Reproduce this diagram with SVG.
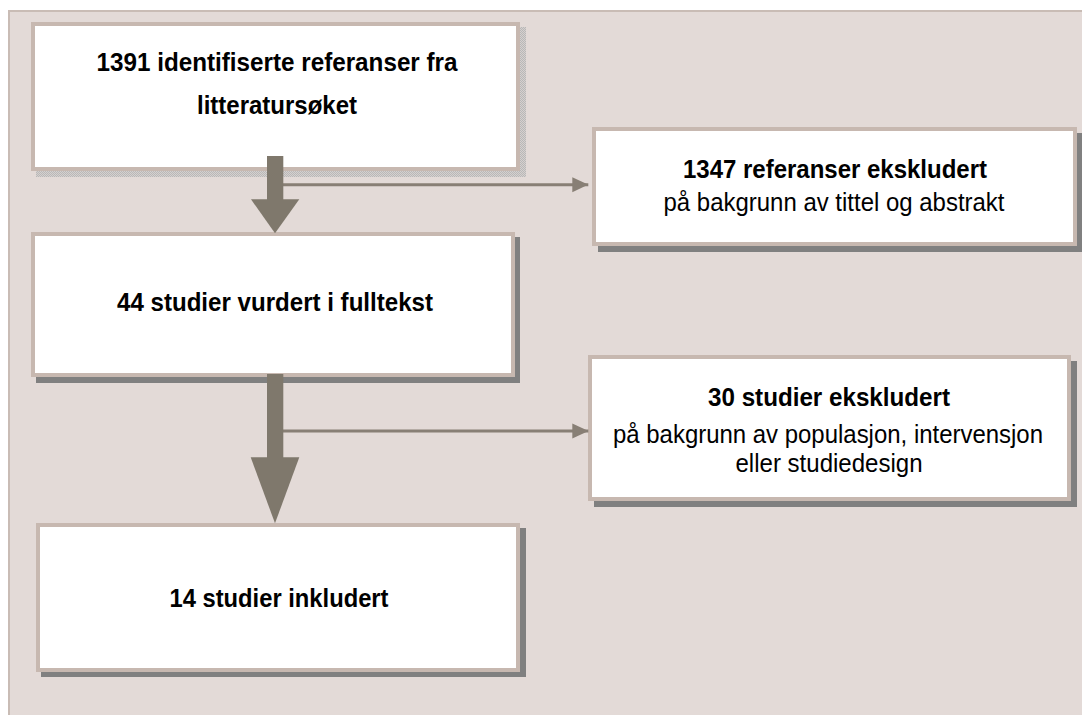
<svg xmlns="http://www.w3.org/2000/svg" width="1082" height="715" viewBox="0 0 1082 715">
  <defs>
    <pattern id="dots" width="2" height="2" patternUnits="userSpaceOnUse">
      <rect width="2" height="2" fill="#D6D0CE"/>
      <rect width="1" height="1" fill="#B8B8B8"/>
      <rect x="1" y="1" width="1" height="1" fill="#B8B8B8"/>
    </pattern>
    <marker id="ah" markerWidth="16" markerHeight="16" viewBox="0 0 16 16" refX="16" refY="8" orient="auto" markerUnits="userSpaceOnUse">
      <path d="M0,0.5 L16,8 L0,15.5 Z" fill="#887F75"/>
    </marker>
  </defs>
  <style>
    .panel { fill: #E3DAD7; stroke: #C9BCB5; stroke-width: 2; }
    .box { fill: #FFFFFF; stroke: #C7B8B0; stroke-width: 4; }
    .shadow { fill: #808080; }
    .dotshadow { fill: url(#dots); }
    .b { font-family: "Liberation Sans", Arial, sans-serif; font-size: 26px; font-weight: bold; fill: #000; text-anchor: middle; }
    .r { font-family: "Liberation Sans", Arial, sans-serif; font-size: 25.5px; font-weight: normal; fill: #000; text-anchor: middle; }
    .shaft { fill: #7F786C; }
    .line { stroke: #887F75; stroke-width: 3; fill: none; }
  </style>

  <rect class="panel" x="9" y="11" width="1090" height="720"/>

  <g id="node-identified">
    <rect class="dotshadow" x="36" y="170" width="490" height="7"/>
    <rect class="dotshadow" x="520" y="27" width="6" height="150"/>
    <rect class="box" x="33" y="24" width="485" height="145"/>
    <text class="b" x="277" y="71" textLength="361" lengthAdjust="spacingAndGlyphs">1391 identifiserte referanser fra</text>
    <text class="b" x="277" y="114" textLength="160" lengthAdjust="spacingAndGlyphs">litteratursøket</text>
  </g>

  <g id="node-excluded1">
    <rect class="shadow" x="598" y="133" width="485" height="119"/>
    <rect class="box" x="594" y="129" width="481" height="115"/>
    <text class="b" x="835" y="178" textLength="304" lengthAdjust="spacingAndGlyphs">1347 referanser ekskludert</text>
    <text class="r" x="834" y="211" textLength="341" lengthAdjust="spacingAndGlyphs">på bakgrunn av tittel og abstrakt</text>
  </g>

  <g id="node-fulltext">
    <rect class="shadow" x="36" y="237" width="484" height="146"/>
    <rect class="box" x="33" y="234" width="480" height="141"/>
    <text class="b" x="275" y="311" textLength="316" lengthAdjust="spacingAndGlyphs">44 studier vurdert i fulltekst</text>
  </g>

  <g id="node-excluded2">
    <rect class="shadow" x="594" y="361" width="483" height="146"/>
    <rect class="box" x="590" y="357" width="479" height="142"/>
    <text class="b" x="829" y="406" textLength="242" lengthAdjust="spacingAndGlyphs">30 studier ekskludert</text>
    <text class="r" x="828" y="443" textLength="430" lengthAdjust="spacingAndGlyphs">på bakgrunn av populasjon, intervensjon</text>
    <text class="r" x="829" y="472" textLength="187" lengthAdjust="spacingAndGlyphs">eller studiedesign</text>
  </g>

  <g id="node-included">
    <rect class="shadow" x="41" y="528" width="485" height="149"/>
    <rect class="box" x="38" y="525" width="480" height="145"/>
    <text class="b" x="279" y="607" textLength="219" lengthAdjust="spacingAndGlyphs">14 studier inkludert</text>
  </g>

  <g id="connectors">
    <line class="line" x1="283" y1="184.7" x2="588.3" y2="184.7" marker-end="url(#ah)"/>
    <rect class="shaft" x="267" y="156" width="16.3" height="44"/>
    <path class="shaft" d="M251,199.3 L299.3,199.3 L275,233.3 Z"/>

    <line class="line" x1="283" y1="431" x2="588.3" y2="431" marker-end="url(#ah)"/>
    <rect class="shaft" x="267" y="374" width="16.3" height="84"/>
    <path class="shaft" d="M250.7,457.3 L299.3,457.3 L275,523.3 Z"/>
  </g>
</svg>
